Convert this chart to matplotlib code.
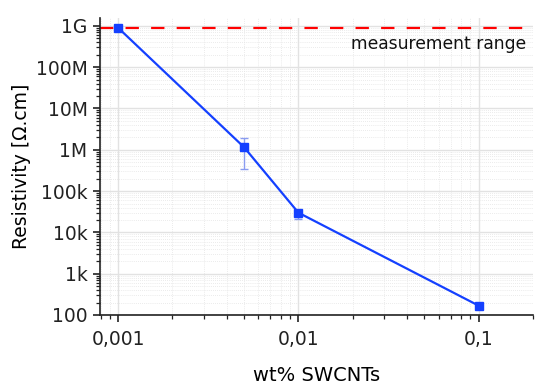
import matplotlib
matplotlib.use("Agg")
import matplotlib.pyplot as plt
from matplotlib.ticker import LogLocator, FixedLocator, FixedFormatter, NullFormatter

wt = [0.001, 0.005, 0.01, 0.1]
resistivity = [9.0e8, 1.15e6, 3.0e4, 168]
err_low = [0, 8.0e5, 9.0e3, 0]
err_high = [0, 7.5e5, 5.0e3, 0]
meas_range = 8.7e8

ytick_vals = [1e2, 1e3, 1e4, 1e5, 1e6, 1e7, 1e8, 1e9]
ytick_labels = ["100", "1k", "10k", "100k", "1M", "10M", "100M", "1G"]
xtick_vals = [0.001, 0.01, 0.1]
xtick_labels = ["0,001", "0,01", "0,1"]

plt.rcParams['font.family'] = ['DejaVu Sans']

fig = plt.figure(figsize=(5.5, 3.87), dpi=100)
ax = fig.add_axes([100/550, 1-315/387, 433/550, (315-18)/387])
ax.set_xscale('log')
ax.set_yscale('log')
ax.set_xlim(0.000794, 0.2)
ax.set_ylim(100, 1.55e9)

ax.grid(True, which='major', color='#e2e2e2', lw=1.0, ls='-')
ax.grid(True, which='minor', color='#e4e4e4', lw=0.6, ls=(0, (1, 1.5)))
ax.set_axisbelow(True)

ax.axhline(meas_range, color='#ff0000', lw=1.6, dashes=(6, 5.5), zorder=2)
ax.text(0.985, 0.914, "measurement range", transform=ax.transAxes,
        ha='right', va='center', fontsize=12.3, color='#111111')

ax.errorbar(wt, resistivity, yerr=[err_low, err_high], fmt='none',
            ecolor='#8a9cf0', elinewidth=1.0, capsize=3, capthick=1.0, zorder=3)
ax.plot(wt, resistivity, color='#1440ff', lw=1.6, marker='s', ms=6,
        mfc='#1440ff', mec='#1440ff', zorder=4)

ax.yaxis.set_major_locator(FixedLocator(ytick_vals))
ax.yaxis.set_major_formatter(FixedFormatter(ytick_labels))
ax.yaxis.set_minor_locator(LogLocator(base=10, subs=range(2, 10), numticks=20))
ax.yaxis.set_minor_formatter(NullFormatter())
ax.xaxis.set_major_locator(FixedLocator(xtick_vals))
ax.xaxis.set_major_formatter(FixedFormatter(xtick_labels))
ax.xaxis.set_minor_locator(LogLocator(base=10, subs=range(2, 10), numticks=20))
ax.xaxis.set_minor_formatter(NullFormatter())

for s in ['top', 'right']:
    ax.spines[s].set_visible(False)
for s in ['left', 'bottom']:
    ax.spines[s].set_linewidth(1.2)
    ax.spines[s].set_color('#222222')

ax.tick_params(which='major', direction='out', length=5, width=1.2, labelsize=13.5, colors='#222222')
ax.tick_params(which='minor', direction='out', length=3, width=0.9, colors='#222222')
ax.tick_params(axis='x', pad=6)
ax.tick_params(axis='y', pad=4)

ax.set_ylabel("Resistivity [Ω.cm]", fontsize=13.5)
ax.yaxis.set_label_coords(-0.16, 0.5)
ax.set_xlabel("wt% SWCNTs", fontsize=14)
ax.xaxis.set_label_coords(0.5, -0.172)

fig.savefig("out.png", dpi=100)
